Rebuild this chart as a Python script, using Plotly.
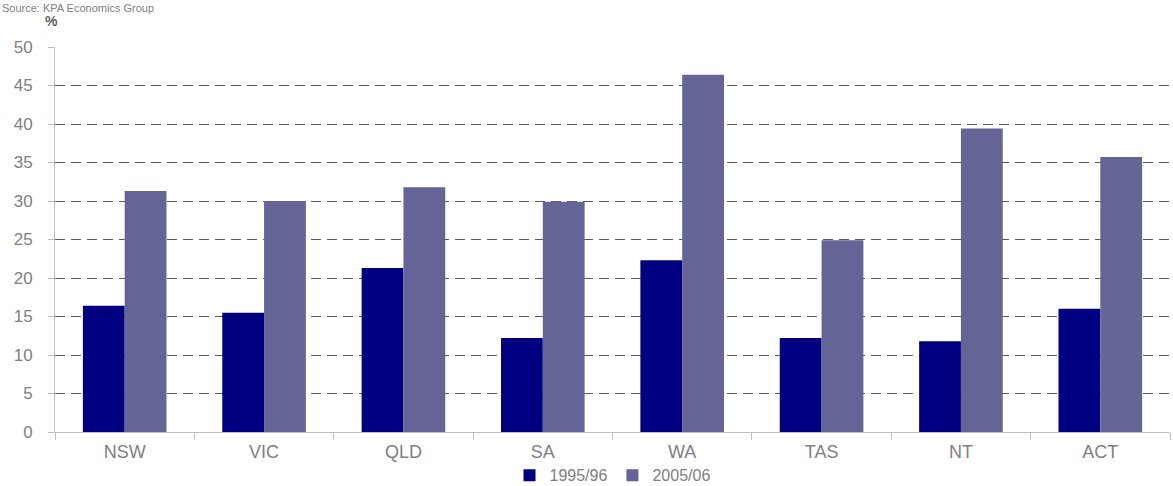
import plotly.graph_objects as go

categories = ["NSW", "VIC", "QLD", "SA", "WA", "TAS", "NT", "ACT"]
values_1995 = [16.4, 15.5, 21.3, 12.2, 22.3, 12.2, 11.8, 16.0]
values_2005 = [31.3, 30.0, 31.8, 29.9, 46.4, 24.9, 39.4, 35.7]
series_names = ["1995/96", "2005/06"]
y_ticks = [0, 5, 10, 15, 20, 25, 30, 35, 40, 45, 50]

fig = go.Figure()
fig.add_trace(go.Bar(x=categories, y=values_1995, name=series_names[0], marker_color="#000080", marker_line_width=0))
fig.add_trace(go.Bar(x=categories, y=values_2005, name=series_names[1], marker_color="#646496", marker_line_width=0))

font_family = "Liberation Sans, Arial, sans-serif"
fig.update_layout(
    width=1173, height=486,
    margin=dict(l=55, r=3, t=47, b=54, autoexpand=False),
    plot_bgcolor="white", paper_bgcolor="white",
    barmode="group", bargap=0.4, bargroupgap=0,
    font=dict(family=font_family, color="#808080", size=17),
    showlegend=True,
    legend=dict(orientation="h", x=0.5, xanchor="center", yref="container", y=0.022, yanchor="middle",
                font=dict(size=16, color="#808080"), itemwidth=30, tracegroupgap=0,
                bgcolor="rgba(0,0,0,0)"),
    xaxis=dict(showline=True, linecolor="#c0c0c0", linewidth=1,
               ticks="outside", tickson="boundaries", ticklen=7, tickcolor="#c0c0c0",
               ticklabelstandoff=3,
               tickfont=dict(size=18, color="#808080"), showgrid=False),
    yaxis=dict(range=[0, 50], tickvals=y_ticks, showline=True, linecolor="#c0c0c0", linewidth=1,
               ticks="outside", ticklen=6, tickcolor="#c0c0c0", ticklabelstandoff=12,
               tickfont=dict(size=17, color="#808080"),
               showgrid=True, gridcolor="#5a5a5a", gridwidth=1, griddash="10px,6px",
               zeroline=False),
)
fig.add_annotation(text="<b>%</b>", xref="paper", yref="paper", x=-0.003, y=1.0, xanchor="center", yanchor="bottom",
                   yshift=16, showarrow=False, font=dict(size=14, color="#606060", family=font_family))
fig.add_annotation(text="Source: KPA Economics Group", xref="paper", yref="paper", x=0.0, y=1.0,
                   xanchor="left", yanchor="bottom", yshift=31, xshift=-55, showarrow=False,
                   font=dict(size=11, color="#808080", family=font_family))
fig.write_html("out.html")
